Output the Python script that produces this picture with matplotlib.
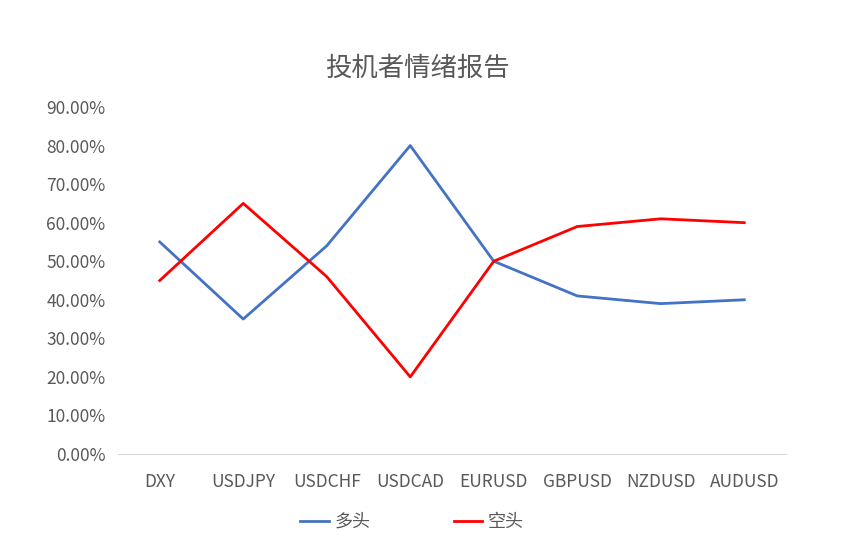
import matplotlib
matplotlib.use('Agg')
import matplotlib.pyplot as plt
from matplotlib.ticker import PercentFormatter

plt.rcParams['font.family'] = ['Noto Sans CJK SC', 'DejaVu Sans']

pairs = ['DXY', 'USDJPY', 'USDCHF', 'USDCAD', 'EURUSD', 'GBPUSD', 'NZDUSD', 'AUDUSD']
long_pos = [0.55, 0.35, 0.54, 0.80, 0.50, 0.41, 0.39, 0.40]
short_pos = [0.45, 0.65, 0.46, 0.20, 0.50, 0.59, 0.61, 0.60]

fig = plt.figure(figsize=(8.42, 5.48), dpi=100)
ax = fig.add_axes([118/842, 94/548, (786-118)/842, (454-107)/548])

x = range(len(pairs))
ax.plot(x, long_pos, color='#4472C4', lw=2.0, label='多头')
ax.plot(x, short_pos, color='#FF0000', lw=2.0, label='空头')

ax.set_xlim(-0.5, len(pairs) - 0.5)
ax.set_ylim(0, 0.9)
ax.set_yticks([i / 10 for i in range(10)])
ax.yaxis.set_major_formatter(PercentFormatter(1.0, decimals=2))
ax.set_xticks(list(x))
ax.set_xticklabels(pairs)

for s in ['top', 'right', 'left']:
    ax.spines[s].set_visible(False)
ax.spines['bottom'].set_color('#D9D9D9')
ax.tick_params(length=0, colors='#595959', labelsize=12.5)
ax.tick_params(axis='x', pad=14)
ax.tick_params(axis='y', pad=9)

fig.text(417/842, 1 - 68/548, '投机者情绪报告', ha='center', va='center',
         fontsize=19, color='#595959')

fig.legend(loc='center', bbox_to_anchor=(412/842, 1 - 522/548), ncol=2,
           frameon=False, fontsize=13, handlelength=1.6, handletextpad=0.3,
           columnspacing=4.6, labelcolor='#595959')

fig.savefig('out.png', dpi=100)
